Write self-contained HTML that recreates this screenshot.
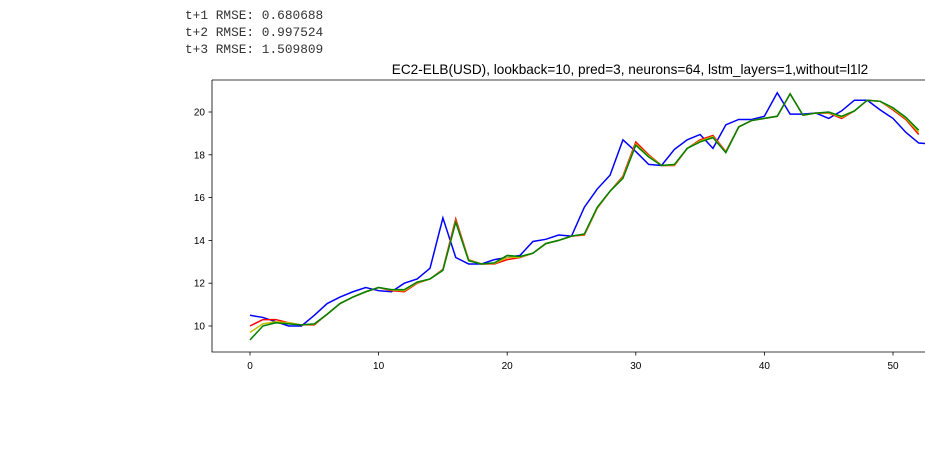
<!DOCTYPE html>
<html><head><meta charset="utf-8"><style>
body{margin:0;width:925px;height:460px;background:#fff;overflow:hidden;position:relative;font-family:"Liberation Sans",sans-serif}
.rm{position:absolute;left:185px;font-family:"Liberation Mono",monospace;font-size:12.8px;color:#333;line-height:17px}
</style></head><body>
<div class="rm" style="top:7px">t+1 RMSE: 0.680688<br>t+2 RMSE: 0.997524<br>t+3 RMSE: 1.509809</div>
<svg id="c" width="925" height="460" style="position:absolute;left:0;top:0"></svg>
<script>
const xTicks=[0,10,20,30,40,50];
const yTicks=[10,12,14,16,18,20];
const actual=[10.5,10.4,10.2,10.0,10.0,10.5,11.05,11.35,11.6,11.8,11.65,11.6,12.0,12.2,12.7,15.05,13.2,12.9,12.9,13.1,13.2,13.3,13.95,14.05,14.25,14.2,15.55,16.4,17.05,18.7,18.15,17.55,17.5,18.25,18.7,18.95,18.3,19.4,19.65,19.65,19.8,20.9,19.9,19.9,19.95,19.7,20.05,20.55,20.55,20.1,19.7,19.05,18.55,18.5];
const predT1=[10.0,10.3,10.3,10.15,10.05,10.05,10.55,11.05,11.35,11.6,11.8,11.65,11.6,12.0,12.2,12.65,15.0,13.1,12.9,12.9,13.1,13.2,13.4,13.85,14.0,14.2,14.25,15.5,16.3,17.0,18.6,18.0,17.5,17.5,18.3,18.7,18.9,18.15,19.3,19.6,19.7,19.8,20.85,19.85,19.95,19.95,19.7,20.05,20.55,20.5,20.1,19.65,18.95];
const predT2=[9.7,10.1,10.2,10.15,10.05,10.08,10.55,11.05,11.35,11.6,11.8,11.68,11.65,12.02,12.2,12.62,14.9,13.08,12.9,12.92,13.2,13.22,13.4,13.85,14.0,14.2,14.28,15.52,16.3,16.95,18.5,17.95,17.5,17.52,18.3,18.65,18.85,18.12,19.3,19.6,19.7,19.8,20.85,19.85,19.95,19.97,19.75,20.05,20.55,20.5,20.15,19.7,19.05];
const predT3=[9.35,10.0,10.15,10.1,10.05,10.1,10.55,11.05,11.35,11.6,11.8,11.7,11.7,12.05,12.2,12.6,14.85,13.05,12.9,12.95,13.3,13.25,13.4,13.85,14.0,14.2,14.3,15.55,16.3,16.9,18.45,17.9,17.5,17.55,18.3,18.6,18.8,18.1,19.3,19.6,19.7,19.8,20.85,19.85,19.95,20.0,19.8,20.05,20.55,20.5,20.2,19.75,19.15];
const X=v=>250+v*12.86, Y=v=>112+(20-v)*21.4;
const L=212,T=80,B=352,R=926;
const s=document.getElementById('c'),NS='http://www.w3.org/2000/svg';
function mk(t,a,p){const e=document.createElementNS(NS,t);for(const k in a)e.setAttribute(k,a[k]);(p||s).appendChild(e);return e;}
const defs=mk('defs',{});const cp=mk('clipPath',{id:'cl'},defs);mk('rect',{x:L,y:T,width:R-L,height:B-T},cp);
const g=mk('g',{'clip-path':'url(#cl)'});
[[actual,'#0000ff','actual-line'],[predT1,'#ff0000','pred-t1-line'],[predT2,'#bfbf00','pred-t2-line'],[predT3,'#008000','pred-t3-line']].forEach(([d,c,n])=>{
 const p=mk('polyline',{points:d.map((v,i)=>X(i)+','+Y(v)).join(' '),fill:'none',stroke:c,'stroke-width':1.5},g);
 
 
});
const ax=mk('path',{d:`M${L},${T}H${R}M${L},${T}V${B}H${R}`,stroke:'#000','stroke-width':0.8,fill:'none'});

xTicks.forEach(t=>{mk('line',{x1:X(t),x2:X(t),y1:B,y2:B+3.5,stroke:'#000','stroke-width':0.8});
 const e=mk('text',{x:X(t),y:B+17,'text-anchor':'middle','font-size':10,fill:'#000'});e.textContent=t;
 });
yTicks.forEach(t=>{mk('line',{x1:L,x2:L-3.5,y1:Y(t),y2:Y(t),stroke:'#000','stroke-width':0.8});
 const e=mk('text',{x:L-7,y:Y(t)+3.5,'text-anchor':'end','font-size':10,fill:'#000'});e.textContent=t;
 });
const ti=mk('text',{x:630,y:74,'text-anchor':'middle','font-size':13.6,fill:'#000'});ti.textContent='EC2-ELB(USD), lookback=10, pred=3, neurons=64, lstm_layers=1,without=l1l2';

</script>
</body></html>
